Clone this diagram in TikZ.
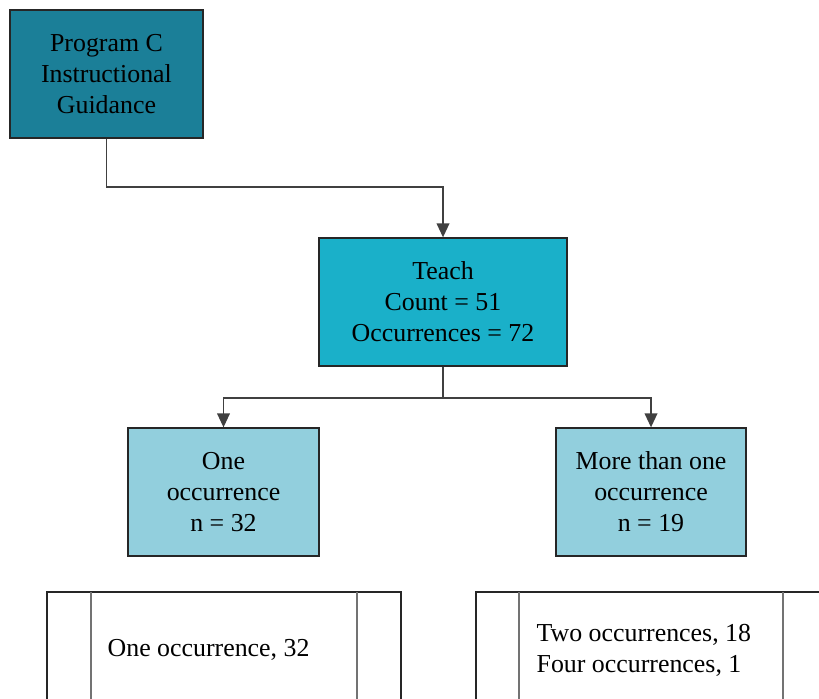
\documentclass[tikz,border=0pt]{standalone}
\usepackage{fontspec}
\setmainfont{Liberation Serif}
\usetikzlibrary{arrows.meta}

\definecolor{tealdark}{HTML}{1B7F98}
\definecolor{tealmid}{HTML}{1AB0C9}
\definecolor{teallight}{HTML}{92CFDD}

\begin{document}
\begin{tikzpicture}[x=0.025cm, y=-0.025cm, line width=0.9pt,
  box/.style={draw=black!85, align=center, inner sep=0pt,
    minimum height=128*0.025cm, font=\fontsize{18.4}{22}\selectfont},
  arr/.style={-{Triangle[length=10pt,width=9pt]}, draw=black!75, line width=1.3pt}]

% Page frame, same size as the original picture
\useasboundingbox (0,0) rectangle (819,698);
\clip (0,0) rectangle (819,698);

% The four coloured boxes
\node[box, fill=tealdark, minimum width=193*0.025cm] (prog) at (106.5,74)
  {Program C\\Instructional\\Guidance};
\node[box, fill=tealmid, minimum width=248*0.025cm] (teach) at (443,302)
  {Teach\\Count = 51\\Occurrences = 72};
\node[box, fill=teallight, minimum width=191*0.025cm] (one) at (223.5,492)
  {One\\occurrence\\n = 32};
\node[box, fill=teallight, minimum width=190*0.025cm] (more) at (651,492)
  {More than one\\occurrence\\n = 19};

% Connectors
\draw[arr] (prog.south) -- ++(0,48) -| (teach.north);
\foreach \i in {one, more} {
  \draw[arr] (teach.south) -- ++(0,31) -| (\i.north);
}

% Lower boxes with their side bars (they run off the page)
\foreach \a\b\c\d in {47/91/357/401, 476/519/783/828} {
  \draw[black!85] (\a,720) |- (\d,592) -- (\d,720);
  \draw[black!55, line width=1.4pt] (\b,592) -- (\b,720);
  \draw[black!55, line width=1.4pt] (\c,592) -- (\c,720);
}

% Texts of the lower boxes
\node[anchor=west, align=left, inner sep=0pt, font=\fontsize{18.4}{22}\selectfont]
  (onelist) at (107,650) {One occurrence, 32};
\node[anchor=west, align=left, inner sep=0pt, font=\fontsize{18.4}{22}\selectfont]
  (morelist) at (536,650) {Two occurrences, 18\\Four occurrences, 1};

\end{tikzpicture}
\end{document}
